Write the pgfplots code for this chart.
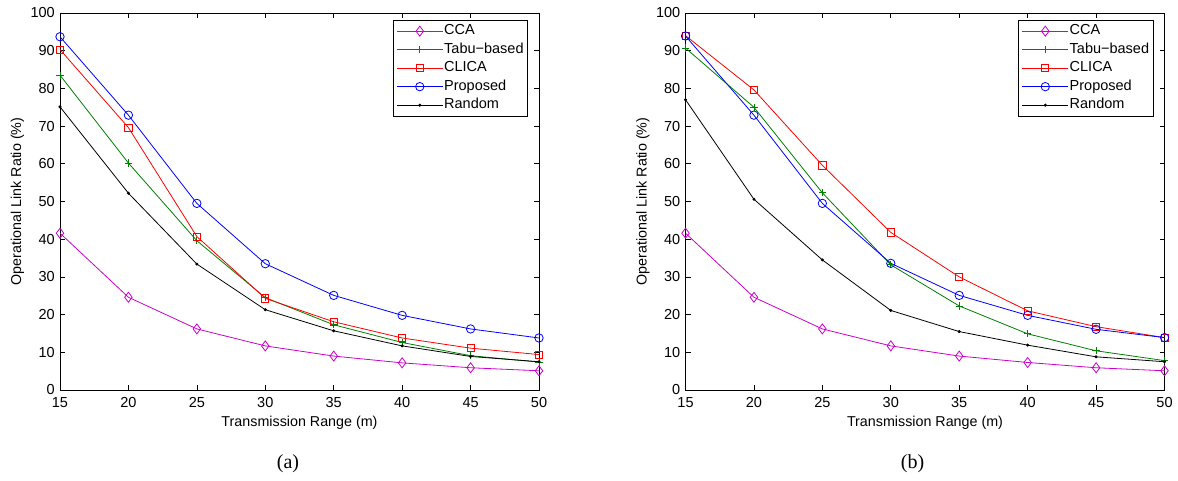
\documentclass[border=0pt]{standalone}
\usepackage{pgfplots}
\pgfplotsset{compat=1.18}
\usepackage{fontspec}
\setmainfont{Liberation Sans}
\newfontfamily\seriffont{Liberation Serif}
\definecolor{mmag}{RGB}{204,0,204}
\definecolor{mgreen}{RGB}{0,128,0}
\definecolor{mred}{RGB}{255,0,0}
\definecolor{mblue}{RGB}{0,0,255}
\pgfplotsset{
  myaxis/.style={
    scale only axis, width=479pt, height=377pt,
    xmin=15, xmax=50, ymin=0, ymax=100,
    xtick={15,20,...,50}, ytick={0,10,...,100},
    tick align=inside, major tick length=5pt,
    axis line style={black, line width=0.9pt},
    every tick/.style={black, line width=0.7pt},
    tick label style={font=\fontsize{14.5}{16}\selectfont},
    /pgf/number format/assume math mode=true,
    xticklabel style={inner sep=0pt, yshift=-7pt},
    yticklabel style={inner sep=0pt, xshift=-5pt},
    xlabel={Transmission Range (m)},
    ylabel={Operational Link Ratio (\%)},
    label style={font=\fontsize{14.3}{16}\selectfont},
    xlabel style={at={(axis description cs:0.5,0)}, anchor=center, yshift=-33pt},
    ylabel style={at={(axis description cs:0,0.5)}, anchor=center, yshift=42.5pt},
    legend cell align=left,
    legend style={at={(1,1)}, anchor=north east, xshift=-11pt, yshift=-7pt,
      font=\fontsize{14.5}{16}\selectfont, draw=black, line width=0.8pt,
      inner sep=3pt, row sep=3pt,
      nodes={inner sep=1pt, text height=10.5pt, text depth=3pt}},
    legend image code/.code={
      \draw[mark repeat=2,mark phase=2] plot coordinates {(0pt,0pt) (23pt,0pt) (46pt,0pt)};},
  },
  cca/.style={color=mmag, line width=0.8pt, mark=diamond, mark size=5pt, mark options={solid, fill=none}},
  tabu/.style={color=mgreen, line width=0.8pt, mark=+, mark size=3.6pt},
  clica/.style={color=mred, line width=0.8pt, mark=square, mark size=3.6pt, mark options={fill=none}},
  prop/.style={color=mblue, line width=0.8pt, mark=o, mark size=4.2pt},
  rand/.style={color=black, line width=0.8pt, mark=*, mark size=1.1pt},
}
\begin{document}
\begin{tikzpicture}
\path[use as bounding box] (0pt,0pt) rectangle (1178pt,-481pt);
\begin{axis}[myaxis, at={(60pt,-390pt)}, anchor=south west]
\addplot[cca] coordinates {(15,41.6) (20,24.6) (25,16.2) (30,11.7) (35,9.0) (40,7.2) (45,5.9) (50,5.1)};
\addlegendentry{CCA}
\addplot[tabu] coordinates {(15,83.5) (20,60.2) (25,39.6) (30,24.5) (35,17.3) (40,12.6) (45,9.1) (50,7.4)};
\addlegendentry{Tabu−based}
\addplot[clica] coordinates {(15,90.3) (20,69.6) (25,40.7) (30,24.3) (35,18.1) (40,13.8) (45,11.1) (50,9.4)};
\addlegendentry{CLICA}
\addplot[prop] coordinates {(15,93.7) (20,72.9) (25,49.5) (30,33.5) (35,25.1) (40,19.8) (45,16.2) (50,13.8)};
\addlegendentry{Proposed}
\addplot[rand] coordinates {(15,75.1) (20,52.2) (25,33.4) (30,21.3) (35,15.7) (40,11.7) (45,8.9) (50,7.5)};
\addlegendentry{Random}
\end{axis}
\begin{axis}[myaxis, at={(685.5pt,-390pt)}, anchor=south west]
\addplot[cca] coordinates {(15,41.6) (20,24.6) (25,16.2) (30,11.7) (35,9.0) (40,7.3) (45,5.9) (50,5.1)};
\addlegendentry{CCA}
\addplot[tabu] coordinates {(15,90.7) (20,75.0) (25,52.3) (30,33.2) (35,22.3) (40,14.9) (45,10.4) (50,7.8)};
\addlegendentry{Tabu−based}
\addplot[clica] coordinates {(15,94.0) (20,79.6) (25,59.6) (30,41.8) (35,30.0) (40,21.0) (45,16.8) (50,13.9)};
\addlegendentry{CLICA}
\addplot[prop] coordinates {(15,93.9) (20,72.9) (25,49.5) (30,33.6) (35,25.1) (40,19.8) (45,16.1) (50,13.9)};
\addlegendentry{Proposed}
\addplot[rand] coordinates {(15,77.0) (20,50.6) (25,34.5) (30,21.1) (35,15.5) (40,11.9) (45,8.8) (50,7.5)};
\addlegendentry{Random}
\end{axis}
\node[font=\seriffont\fontsize{20}{22}\selectfont] at (288pt,-464pt) {(a)};
\node[font=\seriffont\fontsize{20}{22}\selectfont] at (912.5pt,-464pt) {(b)};
\end{tikzpicture}
\end{document}
